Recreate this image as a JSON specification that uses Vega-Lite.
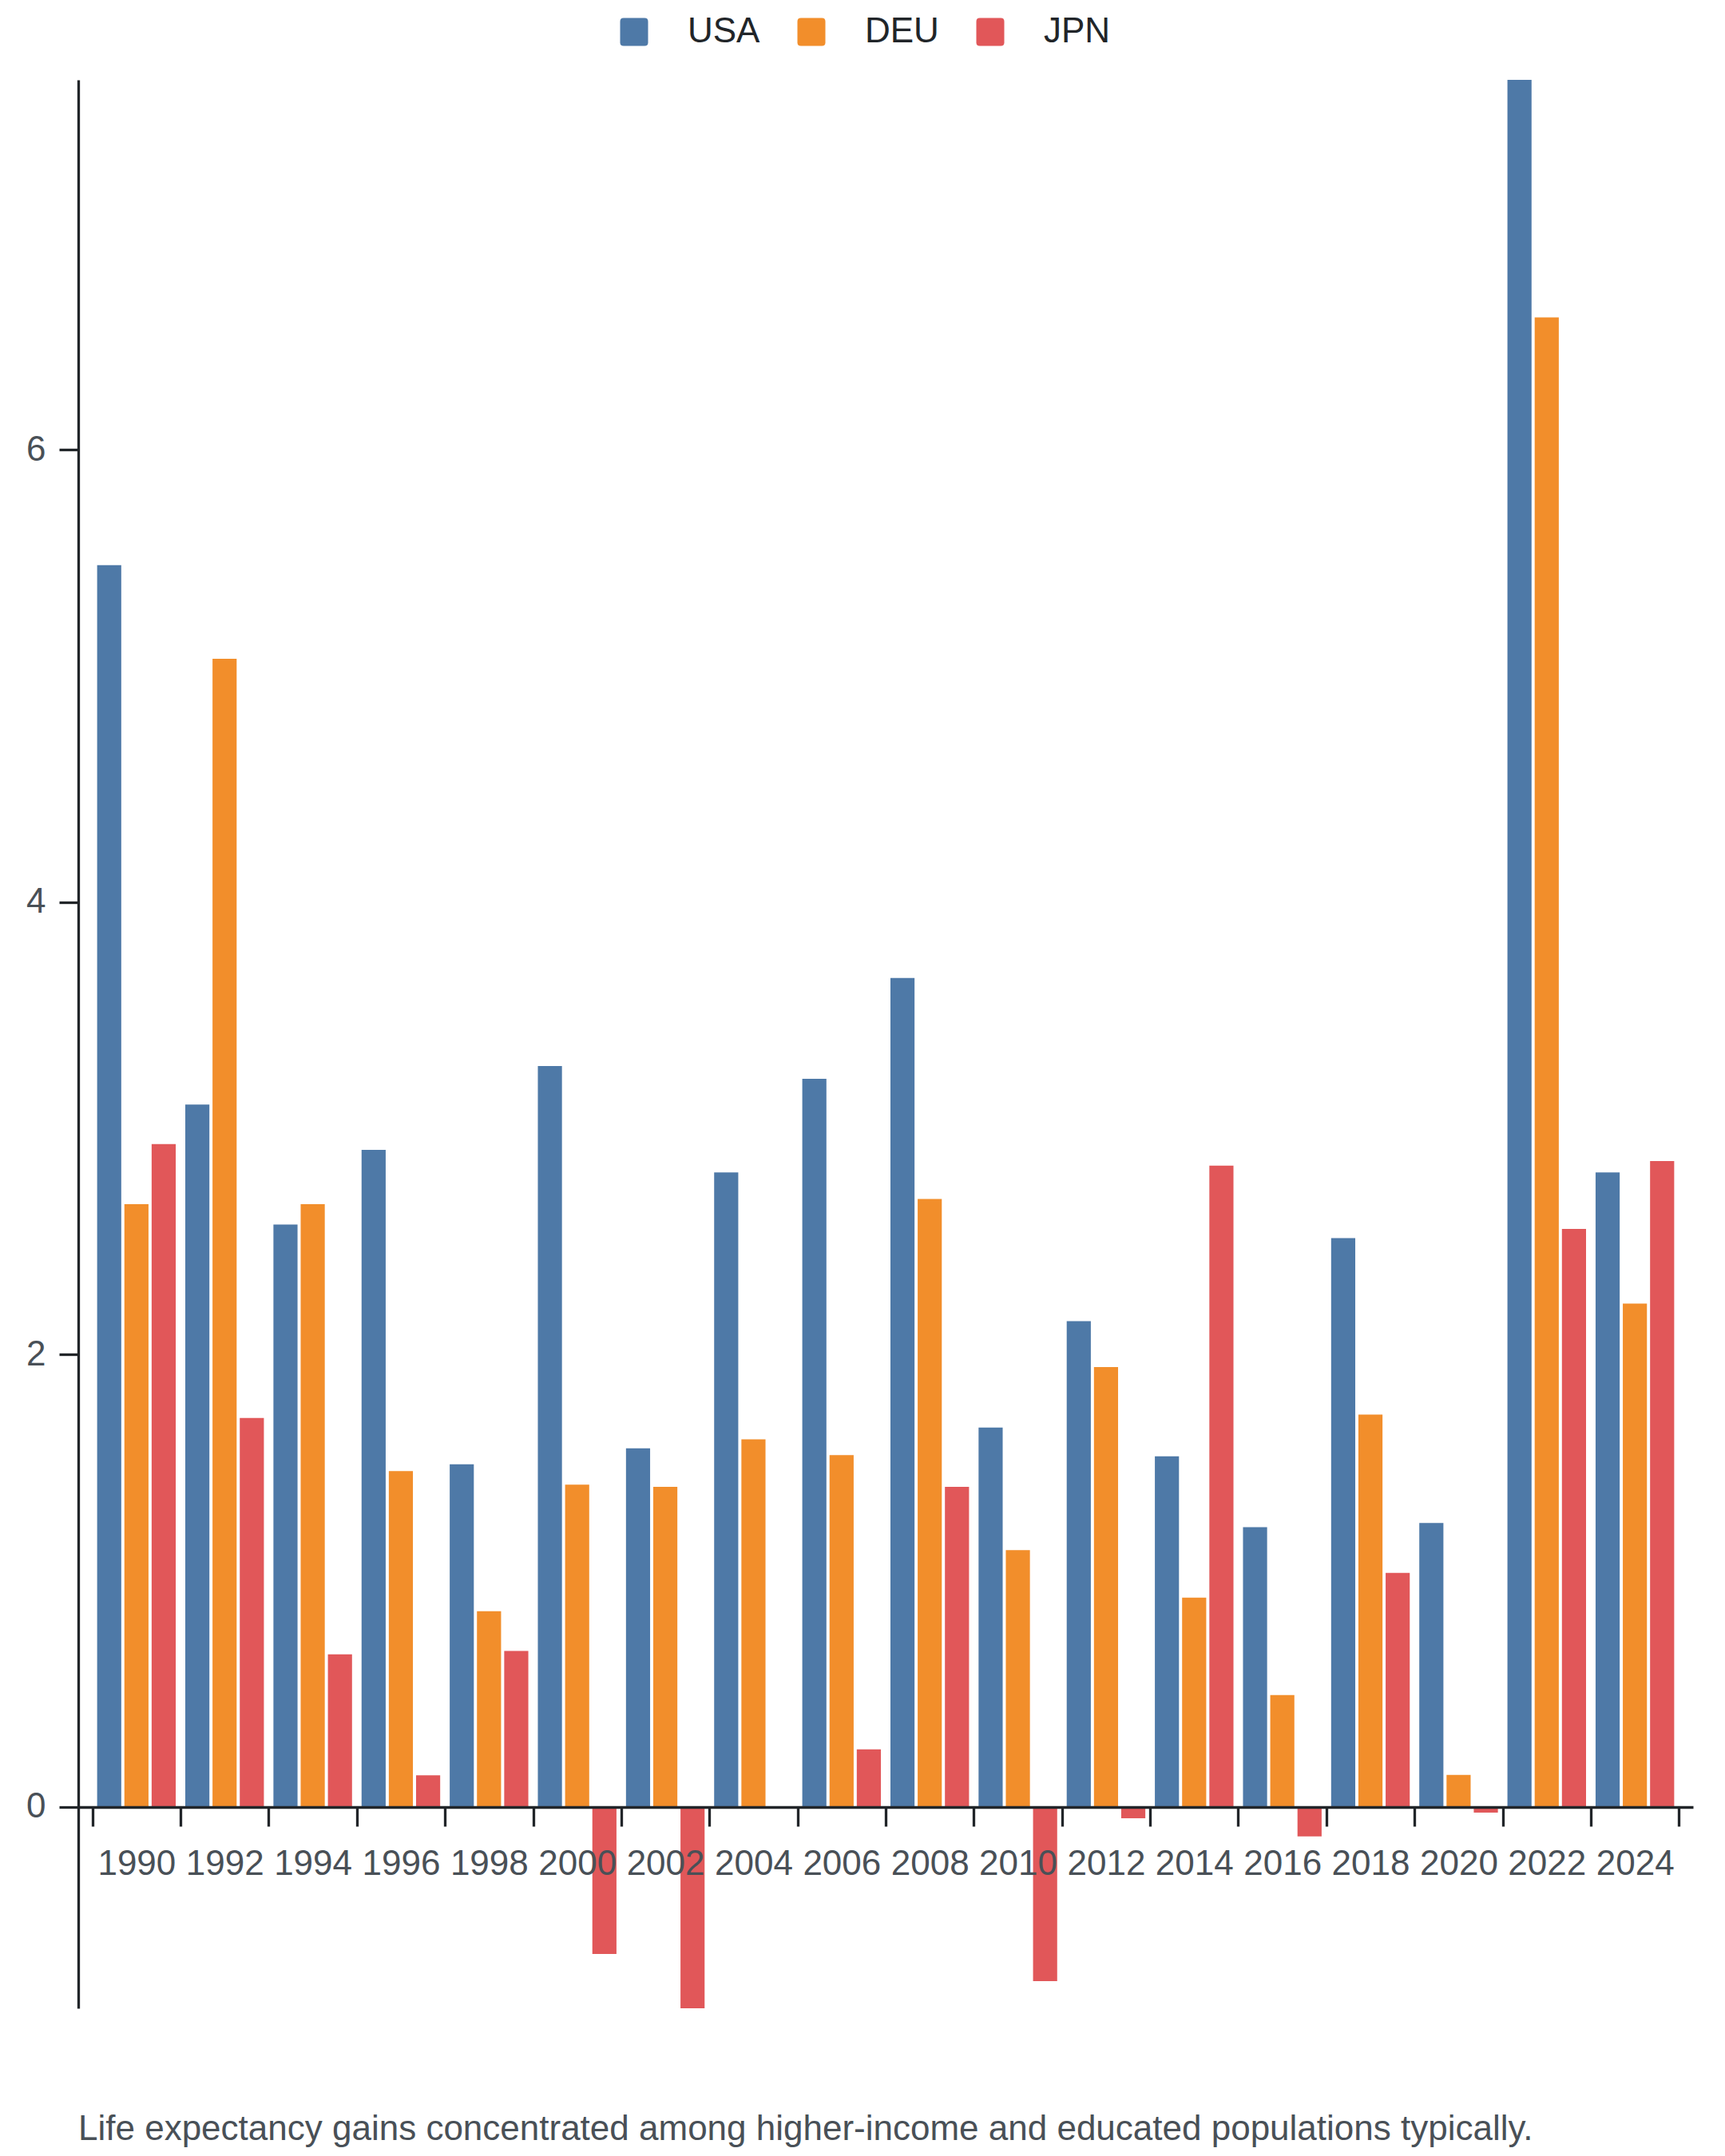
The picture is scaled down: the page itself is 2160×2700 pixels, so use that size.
{
  "$schema": "https://vega.github.io/schema/vega-lite/v6.json",
  "width": 2022,
  "height": 2415,
  "autosize": {"type": "none"},
  "padding": {"left": 98, "top": 100, "right": 40, "bottom": 185},
  "background": "white",
  "view": {"stroke": null},
  "title": {
    "text": "Life expectancy gains concentrated among higher-income and educated populations typically.",
    "orient": "bottom",
    "anchor": "start",
    "frame": "group",
    "baseline": "alphabetic",
    "offset": 165,
    "font": "Liberation Sans",
    "fontSize": 44,
    "fontWeight": "normal",
    "color": "#495057"
  },
  "data": {
    "values": [
      {"year": "1990", "country": "USA", "value": 5.49},
      {"year": "1990", "country": "DEU", "value": 2.665},
      {"year": "1990", "country": "JPN", "value": 2.93},
      {"year": "1992", "country": "USA", "value": 3.105},
      {"year": "1992", "country": "DEU", "value": 5.076},
      {"year": "1992", "country": "JPN", "value": 1.72},
      {"year": "1994", "country": "USA", "value": 2.575},
      {"year": "1994", "country": "DEU", "value": 2.665},
      {"year": "1994", "country": "JPN", "value": 0.675},
      {"year": "1996", "country": "USA", "value": 2.905},
      {"year": "1996", "country": "DEU", "value": 1.485},
      {"year": "1996", "country": "JPN", "value": 0.14},
      {"year": "1998", "country": "USA", "value": 1.515},
      {"year": "1998", "country": "DEU", "value": 0.865},
      {"year": "1998", "country": "JPN", "value": 0.69},
      {"year": "2000", "country": "USA", "value": 3.275},
      {"year": "2000", "country": "DEU", "value": 1.425},
      {"year": "2000", "country": "JPN", "value": -0.65},
      {"year": "2002", "country": "USA", "value": 1.585},
      {"year": "2002", "country": "DEU", "value": 1.415},
      {"year": "2002", "country": "JPN", "value": -0.89},
      {"year": "2004", "country": "USA", "value": 2.805},
      {"year": "2004", "country": "DEU", "value": 1.625},
      {"year": "2004", "country": "JPN", "value": 0},
      {"year": "2006", "country": "USA", "value": 3.219},
      {"year": "2006", "country": "DEU", "value": 1.555},
      {"year": "2006", "country": "JPN", "value": 0.255},
      {"year": "2008", "country": "USA", "value": 3.665},
      {"year": "2008", "country": "DEU", "value": 2.688},
      {"year": "2008", "country": "JPN", "value": 1.415},
      {"year": "2010", "country": "USA", "value": 1.677},
      {"year": "2010", "country": "DEU", "value": 1.135},
      {"year": "2010", "country": "JPN", "value": -0.77},
      {"year": "2012", "country": "USA", "value": 2.148},
      {"year": "2012", "country": "DEU", "value": 1.945},
      {"year": "2012", "country": "JPN", "value": -0.05},
      {"year": "2014", "country": "USA", "value": 1.55},
      {"year": "2014", "country": "DEU", "value": 0.925},
      {"year": "2014", "country": "JPN", "value": 2.835},
      {"year": "2016", "country": "USA", "value": 1.237},
      {"year": "2016", "country": "DEU", "value": 0.495},
      {"year": "2016", "country": "JPN", "value": -0.13},
      {"year": "2018", "country": "USA", "value": 2.515},
      {"year": "2018", "country": "DEU", "value": 1.735},
      {"year": "2018", "country": "JPN", "value": 1.035},
      {"year": "2020", "country": "USA", "value": 1.255},
      {"year": "2020", "country": "DEU", "value": 0.142},
      {"year": "2020", "country": "JPN", "value": -0.025},
      {"year": "2022", "country": "USA", "value": 7.635},
      {"year": "2022", "country": "DEU", "value": 6.585},
      {"year": "2022", "country": "JPN", "value": 2.555},
      {"year": "2024", "country": "USA", "value": 2.805},
      {"year": "2024", "country": "DEU", "value": 2.225},
      {"year": "2024", "country": "JPN", "value": 2.855}
    ]
  },
  "mark": {"type": "bar"},
  "encoding": {
    "x": {
      "field": "year",
      "type": "nominal",
      "scale": {"paddingInner": 0, "paddingOuter": 0.16},
      "axis": {
        "title": null,
        "labelAngle": 0,
        "tickBand": "extent",
        "offset": -252,
        "zindex": 1,
        "domainColor": "#212529",
        "domainWidth": 3.3,
        "tickColor": "#212529",
        "tickWidth": 3.3,
        "tickSize": 24,
        "labelPadding": 25,
        "labelFont": "Liberation Sans",
        "labelFontSize": 44,
        "labelColor": "#495057"
      }
    },
    "xOffset": {
      "field": "country",
      "type": "nominal",
      "sort": ["USA", "DEU", "JPN"],
      "scale": {"paddingInner": 0.115, "paddingOuter": 0.175}
    },
    "y": {
      "field": "value",
      "type": "quantitative",
      "scale": {"nice": false, "zero": true},
      "axis": {
        "title": null,
        "grid": false,
        "tickCount": 4,
        "domainColor": "#212529",
        "domainWidth": 3.3,
        "tickColor": "#212529",
        "tickWidth": 3.3,
        "tickSize": 24,
        "labelPadding": 17,
        "labelFont": "Liberation Sans",
        "labelFontSize": 44,
        "labelColor": "#495057"
      }
    },
    "color": {
      "field": "country",
      "type": "nominal",
      "sort": ["USA", "DEU", "JPN"],
      "scale": {"domain": ["USA", "DEU", "JPN"], "range": ["#4e79a7", "#f28e2b", "#e15759"]},
      "legend": {
        "title": null,
        "orient": "none",
        "direction": "horizontal",
        "legendX": 674,
        "legendY": -82,
        "padding": 0,
        "symbolType": "M-1,-0.75Q-1,-1,-0.75,-1L0.75,-1Q1,-1,1,-0.75L1,0.75Q1,1,0.75,1L-0.75,1Q-1,1,-1,0.75Z",
        "symbolSize": 1225,
        "symbolStrokeWidth": 0,
        "symbolOpacity": 1,
        "labelOffset": 45,
        "columnPadding": 42,
        "labelFont": "Liberation Sans",
        "labelFontSize": 44,
        "labelColor": "#212529"
      }
    }
  }
}
